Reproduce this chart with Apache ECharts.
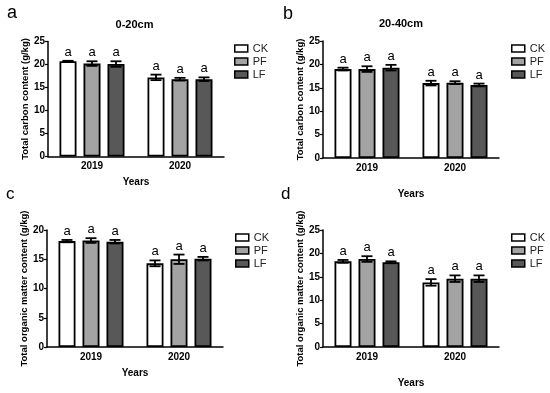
<!DOCTYPE html>
<html>
<head>
<meta charset="utf-8">
<script src="https://cdn.jsdelivr.net/npm/echarts@6/dist/echarts.min.js"></script>
<style>html,body{margin:0;padding:0;background:#fff}#c{width:550px;height:393px}</style>
</head>
<body>
<div id="c"></div>
<script>
// ---- data ----
const categories = ['2019', '2020'];
const treatments = ['CK', 'PF', 'LF'];
const panelLetters = ['a', 'b', 'c', 'd'];
const panelTitles = ['0-20cm', '20-40cm', '', ''];
const yNames = ['Total carbon content (g/kg)', 'Total carbon content (g/kg)', 'Total organic matter content (g/kg)', 'Total organic matter content (g/kg)'];
const yMax = [25, 25, 20, 25];
const yTicks = [0, 5, 10, 15, 20, 25];

// means [CK, PF, LF] per panel, each [2019, 2020]
const aMeans = [[20.7, 17.2], [20.2, 16.8], [20.1, 16.8]];
const aErr   = [[0.1, 0.6], [0.5, 0.3], [0.6, 0.4]];
const bMeans = [[19.0, 16.0], [19.0, 16.1], [19.3, 15.6]];
const bErr   = [[0.3, 0.5], [0.6, 0.3], [0.6, 0.3]];
const cMeans = [[18.1, 14.3], [18.2, 15.0], [18.0, 15.1]];
const cErr   = [[0.2, 0.5], [0.4, 0.8], [0.3, 0.3]];
const dMeans = [[18.3, 13.8], [18.8, 14.6], [18.1, 14.6]];
const dErr   = [[0.3, 0.7], [0.6, 0.7], [0.2, 0.7]];
const sigLetters = [['a', 'a'], ['a', 'a'], ['a', 'a']];

// ---- style / layout ----
const FONT = 'Liberation Sans, Arial, sans-serif';
const colors = ['#ffffff', '#a3a3a3', '#585858'];
const BAR_W = 17, BAR_GAP = 7;
const grids = [
  { left: 48, top: 41.5, width: 176, height: 115 },
  { left: 323, top: 41, width: 176, height: 117 },
  { left: 47, top: 230, width: 176, height: 117 },
  { left: 323, top: 230, width: 176, height: 117 }
];
const xNameGap = [21, 31, 21, 31];
const legendPos = [[234, 43], [511, 43], [235, 232], [511, 232]];
const letterPos = [[7, 4, 18], [283, 5, 18], [6, 186, 17], [281, 186, 17]];
const titlePos = [[134.5, 25], [401, 24]];

const means = [aMeans, bMeans, cMeans, dMeans];
const errs = [aErr, bErr, cErr, dErr];

const xAxis = [], yAxis = [], series = [], legend = [], graphic = [];
grids.forEach((g, p) => {
  xAxis.push({
    type: 'category', gridIndex: p, data: categories,
    name: 'Years', nameLocation: 'middle', nameGap: xNameGap[p],
    nameTextStyle: { fontFamily: FONT, fontWeight: 'bold', fontSize: 10, color: '#000' },
    axisLine: { lineStyle: { color: '#000', width: 1.5 } },
    axisTick: { alignWithLabel: true, length: 3, lineStyle: { color: '#000', width: 1 } },
    axisLabel: { fontFamily: FONT, fontWeight: 'bold', fontSize: 10, color: '#000', margin: 5 }
  });
  yAxis.push({
    type: 'value', gridIndex: p, min: 0, max: yMax[p], interval: 5,
    name: yNames[p], nameLocation: 'middle', nameRotate: 90, nameGap: 16,
    nameTextStyle: { fontFamily: FONT, fontWeight: 'bold', fontSize: 9.5, color: '#000' },
    axisLine: { show: true, lineStyle: { color: '#000', width: 1.5 } },
    axisTick: { show: true, length: 3, lineStyle: { color: '#000', width: 1.2 } },
    axisLabel: { fontFamily: FONT, fontWeight: 'bold', fontSize: 10, color: '#000', margin: 3 },
    splitLine: { show: false }
  });
  treatments.forEach((t, k) => {
    series.push({
      type: 'bar', name: t, xAxisIndex: p, yAxisIndex: p,
      data: means[p][k], barWidth: BAR_W, barGap: (BAR_GAP / BAR_W * 100) + '%',
      itemStyle: { color: colors[k], borderColor: '#000', borderWidth: 1.8 },
      emphasis: { disabled: true }
    });
  });
  treatments.forEach((t, k) => {
    const d = means[p][k].map((v, i) => [i, v, errs[p][k][i]]);
    series.push({
      type: 'custom', name: 'err-' + t, xAxisIndex: p, yAxisIndex: p, z: 5,
      data: d,
      renderItem: function (params, api) {
        const xi = api.value(0), m = api.value(1), e = api.value(2);
        const off = (k - 1) * (BAR_W + BAR_GAP);
        const hi = api.coord([xi, m + e]);
        const lo = api.coord([xi, m - e]);
        const x = hi[0] + off, hw = 5.5;
        const ls = { stroke: '#000', lineWidth: 1.8 };
        return {
          type: 'group', children: [
            { type: 'line', shape: { x1: x, y1: hi[1], x2: x, y2: lo[1] }, style: ls },
            { type: 'line', shape: { x1: x - hw, y1: hi[1], x2: x + hw, y2: hi[1] }, style: ls },
            { type: 'line', shape: { x1: x - hw, y1: lo[1], x2: x + hw, y2: lo[1] }, style: ls },
            { type: 'text', style: { text: sigLetters[k][params.dataIndex], x: x, y: hi[1] - 2, align: 'center', verticalAlign: 'bottom', font: '13px ' + FONT, fill: '#000' } }
          ]
        };
      }
    });
  });
  legend.push({
    data: treatments, orient: 'vertical', left: legendPos[p][0], top: legendPos[p][1],
    padding: 0, itemWidth: 13, itemHeight: 7, itemGap: 2, icon: 'rect',
    itemStyle: { borderColor: '#000', borderWidth: 1.5 },
    textStyle: { fontFamily: FONT, fontSize: 11, color: '#222' },
    selectedMode: false
  });
  graphic.push({
    type: 'text', left: letterPos[p][0], top: letterPos[p][1],
    style: { text: panelLetters[p], font: letterPos[p][2] + 'px ' + FONT, fill: '#000' }
  });
});
titlePos.forEach((tp, p) => {
  graphic.push({
    type: 'text', x: tp[0], y: tp[1],
    style: { text: panelTitles[p], align: 'center', verticalAlign: 'middle', font: 'bold 11px ' + FONT, fill: '#000' }
  });
});

const chart = echarts.init(document.getElementById('c'), null, { renderer: 'canvas' });
chart.setOption({
  animation: false,
  backgroundColor: '#fff',
  grid: grids,
  xAxis: xAxis, yAxis: yAxis, series: series, legend: legend, graphic: graphic
});
</script>
</body>
</html>
